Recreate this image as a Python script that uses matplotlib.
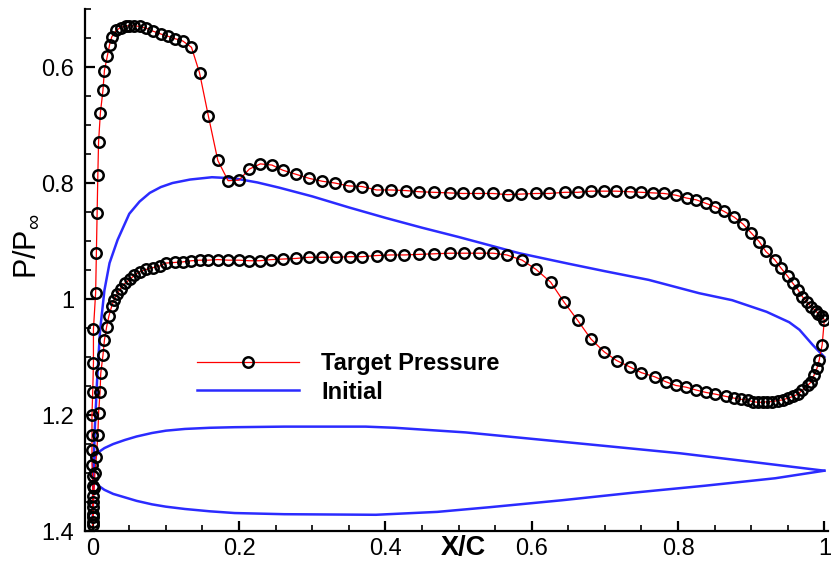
import numpy as np
import matplotlib
matplotlib.use("Agg")
import matplotlib.pyplot as plt
from matplotlib.ticker import MultipleLocator, FuncFormatter

plt.rcParams['font.family'] = ['Liberation Sans', 'DejaVu Sans']
plt.rcParams['mathtext.fontset'] = 'custom'
plt.rcParams['mathtext.rm'] = 'Liberation Sans'
plt.rcParams['mathtext.it'] = 'Liberation Sans'

# ---- Target pressure: suction-side branch (from LE stagnation to TE) ----
upper_x = [0.000, 0.000, 0.000, 0.000, 0.000, 0.000, -0.001, -0.001, -0.001, -0.001,
           0.000, 0.001, 0.001, 0.004, 0.005, 0.006, 0.007, 0.008, 0.0105, 0.014,
           0.016, 0.020, 0.023, 0.026, 0.032, 0.038, 0.045, 0.050, 0.057, 0.064,
           0.073, 0.082, 0.093, 0.103, 0.112, 0.123, 0.135, 0.146, 0.158, 0.171,
           0.185, 0.200, 0.214, 0.229, 0.245, 0.260, 0.278, 0.296, 0.314, 0.331,
           0.350, 0.368, 0.388, 0.408, 0.428, 0.446, 0.467, 0.488, 0.506, 0.526,
           0.547, 0.567, 0.586, 0.606, 0.624, 0.645, 0.663, 0.681, 0.699, 0.715,
           0.734, 0.750, 0.766, 0.781, 0.797, 0.812, 0.825, 0.838, 0.851, 0.863,
           0.877, 0.889, 0.900, 0.911, 0.920, 0.932, 0.941, 0.950, 0.957, 0.964,
           0.970, 0.976, 0.982, 0.988, 0.992, 0.997, 1.000]
upper_p = [1.390, 1.375, 1.358, 1.340, 1.322, 1.305, 1.286, 1.260, 1.234, 1.200,
           1.161, 1.110, 1.052, 0.989, 0.920, 0.852, 0.786, 0.729, 0.679, 0.640,
           0.606, 0.581, 0.562, 0.548, 0.537, 0.532, 0.529, 0.529, 0.529, 0.530,
           0.533, 0.538, 0.543, 0.547, 0.551, 0.555, 0.566, 0.610, 0.684, 0.761,
           0.796, 0.795, 0.776, 0.767, 0.769, 0.778, 0.785, 0.792, 0.797, 0.800,
           0.805, 0.806, 0.812, 0.812, 0.813, 0.815, 0.816, 0.817, 0.818, 0.818,
           0.818, 0.820, 0.819, 0.818, 0.818, 0.816, 0.816, 0.814, 0.814, 0.814,
           0.815, 0.816, 0.817, 0.818, 0.821, 0.826, 0.829, 0.835, 0.841, 0.849,
           0.859, 0.871, 0.886, 0.901, 0.918, 0.932, 0.947, 0.961, 0.973, 0.984,
           0.996, 1.005, 1.013, 1.020, 1.026, 1.030, 1.036]

# ---- Target pressure: pressure-side branch (from TE back to LE) ----
lower_x = [0.997, 0.993, 0.990, 0.986, 0.982, 0.977, 0.970, 0.964, 0.957, 0.950,
           0.943, 0.936, 0.929, 0.922, 0.916, 0.909, 0.902, 0.895, 0.886, 0.877,
           0.866, 0.851, 0.838, 0.825, 0.811, 0.797, 0.784, 0.768, 0.750, 0.734,
           0.716, 0.699, 0.681, 0.663, 0.644, 0.626, 0.606, 0.587, 0.566, 0.547,
           0.528, 0.507, 0.488, 0.467, 0.446, 0.426, 0.407, 0.388, 0.368, 0.351,
           0.333, 0.314, 0.296, 0.278, 0.260, 0.244, 0.228, 0.214, 0.200, 0.185,
           0.171, 0.158, 0.146, 0.135, 0.123, 0.112, 0.100, 0.092, 0.082, 0.073,
           0.064, 0.057, 0.051, 0.044, 0.038, 0.033, 0.029, 0.026, 0.022, 0.019,
           0.016, 0.014, 0.011, 0.010, 0.008, 0.007, 0.005, 0.003, 0.002, 0.001,
           0.0005, 0.000]
lower_p = [1.079, 1.105, 1.119, 1.131, 1.143, 1.149, 1.157, 1.164, 1.168, 1.171,
           1.174, 1.175, 1.177, 1.177, 1.178, 1.178, 1.177, 1.174, 1.173, 1.171,
           1.168, 1.164, 1.161, 1.157, 1.152, 1.149, 1.143, 1.134, 1.127, 1.117,
           1.106, 1.091, 1.069, 1.037, 1.005, 0.971, 0.949, 0.933, 0.924, 0.921,
           0.921, 0.921, 0.921, 0.922, 0.923, 0.924, 0.924, 0.925, 0.927, 0.927,
           0.928, 0.928, 0.928, 0.930, 0.931, 0.932, 0.934, 0.934, 0.933, 0.933,
           0.932, 0.933, 0.933, 0.934, 0.936, 0.937, 0.938, 0.943, 0.946, 0.949,
           0.953, 0.959, 0.966, 0.973, 0.982, 0.992, 1.002, 1.012, 1.030, 1.048,
           1.071, 1.097, 1.128, 1.161, 1.197, 1.234, 1.272, 1.300, 1.325, 1.350,
           1.370, 1.385]

# ---- Initial pressure distribution ----
init_x = [0.000, 0.001, 0.003, 0.006, 0.010, 0.016, 0.023, 0.034, 0.050, 0.064,
          0.078, 0.093, 0.109, 0.133, 0.163, 0.194, 0.225, 0.255, 0.300, 0.350,
          0.400, 0.450, 0.500, 0.583, 0.650, 0.700, 0.760, 0.829, 0.874, 0.921,
          0.952, 0.966, 0.984, 1.000]
init_p = [1.385, 1.300, 1.220, 1.140, 1.055, 0.985, 0.938, 0.898, 0.853, 0.832,
          0.817, 0.807, 0.800, 0.794, 0.790, 0.792, 0.799, 0.808, 0.823, 0.842,
          0.860, 0.877, 0.893, 0.921, 0.939, 0.952, 0.967, 0.990, 1.002, 1.022,
          1.040, 1.053, 1.079, 1.100]

# ---- Airfoil outline (scaled into the plot) ----
foil_up_x = [0.000, 0.001, 0.003, 0.008, 0.016, 0.028, 0.044, 0.060, 0.081, 0.100,
             0.126, 0.160, 0.194, 0.262, 0.373, 0.413, 0.510, 0.608, 0.706, 0.803,
             0.902, 1.000]
foil_up_y = [1.300, 1.285, 1.272, 1.264, 1.257, 1.250, 1.243, 1.237, 1.231, 1.227,
             1.224, 1.222, 1.221, 1.220, 1.220, 1.222, 1.230, 1.242, 1.254, 1.266,
             1.281, 1.296]
foil_lo_x = [0.000, 0.001, 0.003, 0.008, 0.016, 0.028, 0.044, 0.060, 0.081, 0.100,
             0.126, 0.160, 0.194, 0.262, 0.387, 0.471, 0.542, 0.641, 0.738, 0.836,
             0.933, 1.000]
foil_lo_y = [1.300, 1.308, 1.315, 1.322, 1.329, 1.336, 1.342, 1.348, 1.354, 1.358,
             1.362, 1.366, 1.369, 1.371, 1.372, 1.367, 1.359, 1.347, 1.334, 1.322,
             1.309, 1.296]

x_ticks = [0, 0.2, 0.4, 0.6, 0.8, 1.0]
y_ticks = [0.6, 0.8, 1.0, 1.2, 1.4]

fig = plt.figure(figsize=(8.32, 5.68), dpi=100)
ax = fig.add_axes([0.1022, 0.0651, 0.893, 0.919])

tx = upper_x + lower_x
tp = upper_p + lower_p
blue = '#2b2bff'

ax.plot(tx, tp, color='red', lw=0.9, marker='o', ms=7.5, mfc='none',
        mec='black', mew=1.8, label='Target Pressure', zorder=3)
ax.plot(init_x, init_p, color=blue, lw=1.8, label='Initial', zorder=2)
ax.plot(foil_up_x, foil_up_y, color=blue, lw=1.8, zorder=2)
ax.plot(foil_lo_x, foil_lo_y, color=blue, lw=1.8, zorder=2)

ax.set_xlim(-0.0105, 1.005)
ax.set_ylim(1.4, 0.5)

ax.set_xticks(x_ticks)
ax.set_yticks(y_ticks)
ax.xaxis.set_minor_locator(MultipleLocator(0.05))
ax.yaxis.set_minor_locator(MultipleLocator(0.05))
fmt = FuncFormatter(lambda v, p: '%g' % round(v, 3))
ax.xaxis.set_major_formatter(fmt)
ax.yaxis.set_major_formatter(fmt)

for s in ['top', 'right']:
    ax.spines[s].set_visible(False)
for s in ['left', 'bottom']:
    ax.spines[s].set_linewidth(1.6)

ax.tick_params(which='major', direction='in', length=7, width=1.6, labelsize=17)
ax.tick_params(axis='y', which='major', pad=8)
ax.tick_params(axis='x', which='major', pad=5)
ax.tick_params(which='minor', direction='in', length=4, width=1.2)

ax.set_xlabel('X/C', fontsize=19.5, fontweight='bold')
ax.xaxis.set_label_coords(0.509, -0.008)
ax.set_ylabel(r'P/P$_{\infty}$', fontsize=22)
ax.yaxis.set_label_coords(-0.058, 0.545)

leg = ax.legend(loc='center left', bbox_to_anchor=(0.151, 0.293), frameon=False,
                borderpad=0, borderaxespad=0, handlelength=4.3, handletextpad=0.95,
                labelspacing=0.22, prop={'size': 17, 'weight': 'bold'})

fig.savefig('out.png', dpi=100)
